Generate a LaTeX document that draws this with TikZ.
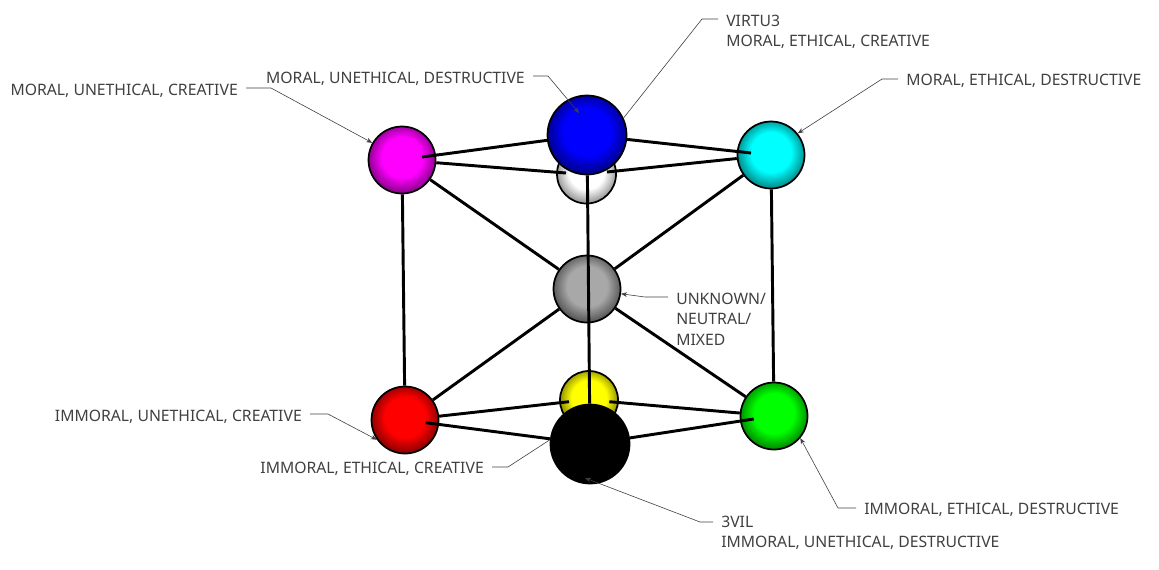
\documentclass[tikz,border=0pt]{standalone}
\usepackage{fontspec}
\setmainfont{Noto Sans}
\usetikzlibrary{arrows.meta}

\definecolor{labelgray}{RGB}{64,64,64}
\definecolor{midgray}{RGB}{168,168,168}

% Shadings of the spheres
\newcommand{\makeball}[2]{%
  \pgfdeclareradialshading{#1ball}{\pgfpoint{0bp}{3bp}}{%
    color(0bp)=(#1); color(15bp)=(#1); color(25bp)=(#1!#2!black); color(50bp)=(#1!#2!black)}}
\makeball{magenta}{58}
\makeball{blue}{58}
\makeball{cyan}{58}
\makeball{white}{62}
\makeball{midgray}{55}
\makeball{red}{58}
\makeball{yellow}{58}
\makeball{black}{100}
\makeball{green}{58}

\pgfdeclarelayer{backballs}
\pgfdeclarelayer{backlines}
\pgfdeclarelayer{sideballs}
\pgfdeclarelayer{frontlines}
\pgfdeclarelayer{frontballs}
\pgfsetlayers{backballs,backlines,sideballs,frontlines,frontballs,main}

\tikzset{
  sphere/.style={circle,draw=black,line width=1.3pt,inner sep=0pt,minimum size=#1*0.75pt,shading=radial},
  edge/.style={line width=2.2pt,black},
  leader/.style={line width=0.45pt,labelgray,-{Stealth[length=4.5pt,width=3.5pt]}},
  leaderplain/.style={line width=0.45pt,labelgray},
  callout/.style={text=labelgray,font=\fontsize{11.8}{15.4}\selectfont,inner xsep=6pt,inner ysep=0pt,align=left}
}

\begin{document}
\begin{tikzpicture}[x=0.75pt,y=-0.75pt]
    \useasboundingbox (0,0) rectangle (1159,569);

    % Spheres at the back
    \begin{pgfonlayer}{backballs}
    \node[sphere=59,shading=whiteball] (white) at (586.5,174) {};
    \node[sphere=58,shading=yellowball] (yellow) at (589,400) {};
    \node[sphere=67,shading=midgrayball] (gray) at (587,289) {};
    \end{pgfonlayer}

    % Side spheres
    \begin{pgfonlayer}{sideballs}
    \node[sphere=67,shading=magentaball] (magenta) at (402,160) {};
    \node[sphere=67,shading=cyanball] (cyan) at (771,155) {};
    \node[sphere=67,shading=redball] (red) at (405,420) {};
    \node[sphere=67,shading=greenball] (green) at (774,416) {};
    \end{pgfonlayer}

    % Spheres in front
    \begin{pgfonlayer}{frontballs}
    \node[sphere=79,shading=blueball] (blue) at (587,135) {};
    \node[sphere=79,shading=blackball] (black) at (590,444) {};
    \end{pgfonlayer}

    % Ends of the bars
    \coordinate (whiteL) at (566,173);
    \coordinate (whiteR) at (607,172);
    \coordinate (yellowL) at (569,401.7);
    \coordinate (yellowR) at (609.3,401.7);
    \coordinate (magentaIn) at (422,157);
    \coordinate (cyanIn) at (751,153);
    \coordinate (redIn) at (425.7,422.7);
    \coordinate (greenIn) at (753.7,419);

    % Bars behind the side spheres
    \begin{pgfonlayer}{backlines}
    \draw[edge] (magenta) -- (whiteL);
    \draw[edge] (cyan) -- (whiteR);
    \draw[edge] (red) -- (yellowL);
    \draw[edge] (green) -- (yellowR);
    \draw[edge] (magenta) -- (red);
    \draw[edge] (cyan) -- (green);
    \draw[edge] (magenta) -- (gray);
    \draw[edge] (cyan) -- (gray);
    \draw[edge] (red) -- (gray);
    \draw[edge] (green) -- (gray);
    \draw[edge] (blue) -- (black);
    \end{pgfonlayer}

    % Bars over the side spheres
    \begin{pgfonlayer}{frontlines}
    \draw[edge] (magentaIn) -- (blue);
    \draw[edge] (cyanIn) -- (blue);
    \draw[edge] (redIn) -- (black);
    \draw[edge] (greenIn) -- (black);
    \end{pgfonlayer}

    % Labels
    \node[callout,anchor=east] (mucLabel) at (246,90.5) {MORAL, UNETHICAL, CREATIVE};
    \node[callout,anchor=east] (mudLabel) at (533,78.5) {MORAL, UNETHICAL, DESTRUCTIVE};
    \node[callout,anchor=west] (virtuLabel) at (718,32) {VIRTU3\\MORAL, ETHICAL, CREATIVE};
    \node[callout,anchor=west] (medLabel) at (898,80.5) {MORAL, ETHICAL, DESTRUCTIVE};
    \node[callout,anchor=west] (unknownLabel) at (668,319) {UNKNOWN/\\NEUTRAL/\\MIXED};
    \node[callout,anchor=east] (iucLabel) at (310,416.5) {IMMORAL, UNETHICAL, CREATIVE};
    \node[callout,anchor=east] (iecLabel) at (492,468.5) {IMMORAL, ETHICAL, CREATIVE};
    \node[callout,anchor=west] (iedLabel) at (856,509.5) {IMMORAL, ETHICAL, DESTRUCTIVE};
    \node[callout,anchor=west] (vilLabel) at (713,533) {3VIL\\IMMORAL, UNETHICAL, DESTRUCTIVE};

    % Leaders
    \coordinate (mucBend) at (271,88);
    \coordinate (mudBend) at (548,76);
    \coordinate (virtuBend) at (702,19);
    \coordinate (medBend) at (882,79);
    \coordinate (unknownBend) at (645,297);
    \coordinate (iucBend) at (328,414);
    \coordinate (iecBend) at (508,467);
    \coordinate (iedBend) at (838,508);
    \coordinate (vilBend) at (700,522);
    \coordinate (mudTip) at (579,113);
    \coordinate (vilTip) at (585,478);

    \draw[leader] (mucLabel.east |- mucBend) -- (mucBend) -- (magenta.150);
    \draw[leader] (mudLabel.east |- mudBend) -- (mudBend) -- (mudTip);
    \draw[leaderplain] (virtuLabel.west |- virtuBend) -- (virtuBend) -- (blue.25);
    \draw[leader] (medLabel.west |- medBend) -- (medBend) -- (cyan.39);
    \draw[leader] (unknownLabel.west |- unknownBend) -- (unknownBend) -- (gray.-8);
    \draw[leader] (iucLabel.east |- iucBend) -- (iucBend) -- (red.215);
    \draw[leaderplain] (iecLabel.east |- iecBend) -- (iecBend) -- (black.174);
    \draw[leader] (iedLabel.west |- iedBend) -- (iedBend) -- (green.-40);
    \draw[leader] (vilLabel.west |- vilBend) -- (vilBend) -- (vilTip);

\end{tikzpicture}
\end{document}
